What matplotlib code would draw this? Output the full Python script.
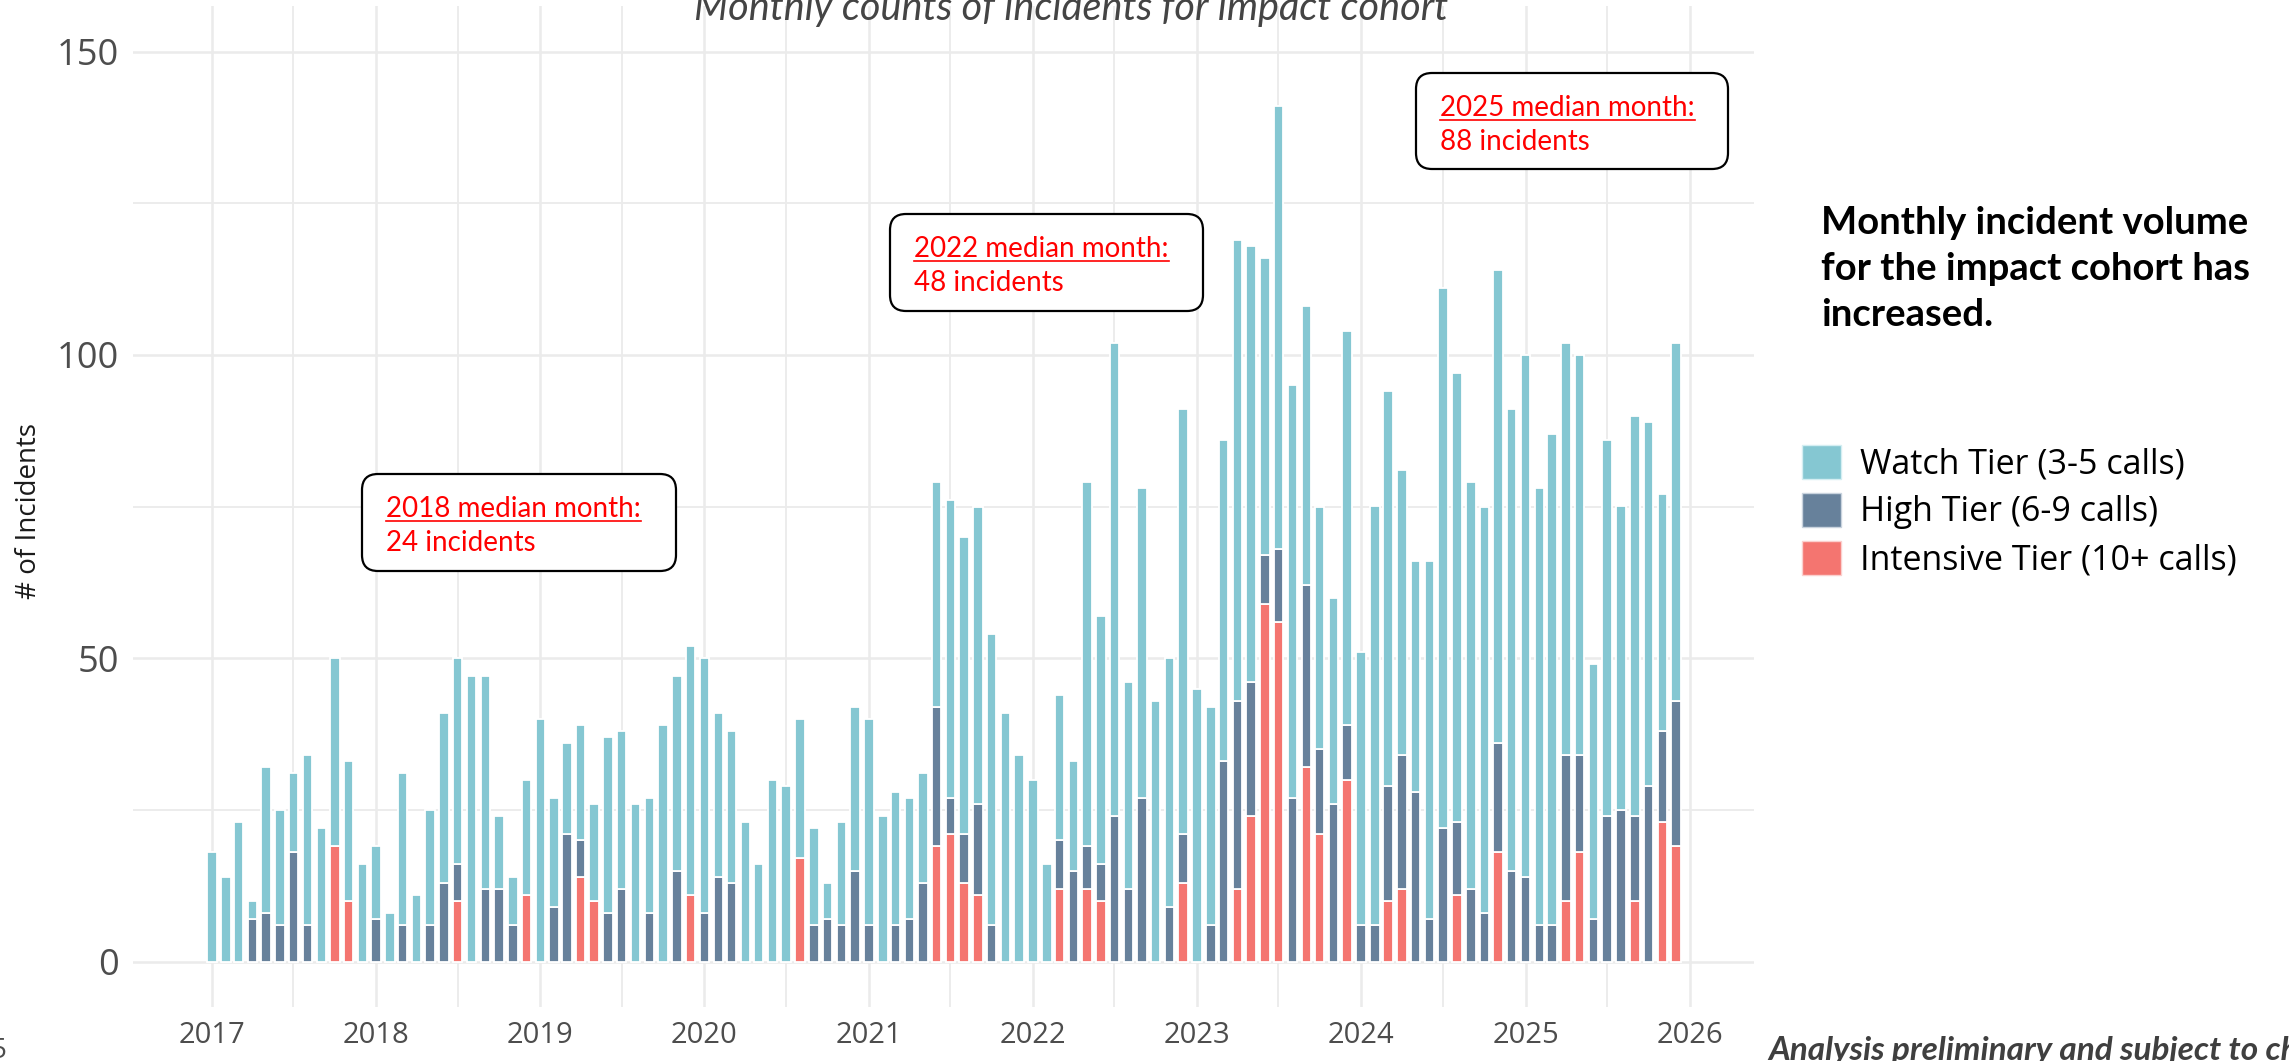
import datetime as dt
import pandas as pd
import matplotlib
matplotlib.use('Agg')
import matplotlib.pyplot as plt
import matplotlib.dates as mdates
from matplotlib.patches import FancyBboxPatch, Patch
from matplotlib.lines import Line2D
from matplotlib.transforms import IdentityTransform

# monthly incident counts by tier, Jan 2017 - Dec 2025 (one row per year)
months = pd.date_range('2017-01-01', '2025-12-01', freq='MS')

watch = [
    18, 14, 23, 3, 24, 19, 13, 28, 22, 31, 23, 16,
    12, 8, 25, 11, 19, 28, 34, 47, 35, 12, 8, 19,
    40, 18, 15, 19, 16, 29, 26, 26, 19, 39, 32, 41,
    42, 27, 25, 23, 16, 30, 29, 23, 16, 6, 17, 27,
    34, 24, 22, 20, 18, 37, 49, 49, 49, 48, 41, 34,
    30, 16, 24, 18, 60, 41, 78, 34, 51, 43, 41, 70,
    45, 36, 53, 76, 72, 49, 73, 68, 46, 40, 34, 65,
    45, 69, 65, 47, 38, 59, 89, 74, 67, 67, 78, 76,
    86, 72, 81, 68, 66, 42, 62, 50, 66, 60, 39, 59,
]
high = [
    0, 0, 0, 7, 8, 6, 18, 6, 0, 0, 0, 0,
    7, 0, 6, 0, 6, 13, 6, 0, 12, 12, 6, 0,
    0, 9, 21, 6, 0, 8, 12, 0, 8, 0, 15, 0,
    8, 14, 13, 0, 0, 0, 0, 0, 6, 7, 6, 15,
    6, 0, 6, 7, 13, 23, 6, 8, 15, 6, 0, 0,
    0, 0, 8, 15, 7, 6, 24, 12, 27, 0, 9, 8,
    0, 6, 33, 31, 22, 8, 12, 27, 30, 14, 26, 9,
    6, 6, 19, 22, 28, 7, 22, 12, 12, 8, 18, 15,
    14, 6, 6, 24, 16, 7, 24, 25, 14, 29, 15, 24,
]
intensive = [
    0, 0, 0, 0, 0, 0, 0, 0, 0, 19, 10, 0,
    0, 0, 0, 0, 0, 0, 10, 0, 0, 0, 0, 11,
    0, 0, 0, 14, 10, 0, 0, 0, 0, 0, 0, 11,
    0, 0, 0, 0, 0, 0, 0, 17, 0, 0, 0, 0,
    0, 0, 0, 0, 0, 19, 21, 13, 11, 0, 0, 0,
    0, 0, 12, 0, 12, 10, 0, 0, 0, 0, 0, 13,
    0, 0, 0, 12, 24, 59, 56, 0, 32, 21, 0, 30,
    0, 0, 10, 12, 0, 0, 0, 11, 0, 0, 18, 0,
    0, 0, 0, 10, 18, 0, 0, 0, 10, 0, 23, 19,
]

tier_labels = ['Watch Tier (3-5 calls)', 'High Tier (6-9 calls)', 'Intensive Tier (10+ calls)']
notes = [('2018 median month:', '24 incidents'),
         ('2022 median month:', '48 incidents'),
         ('2025 median month:', '88 incidents')]

C_WATCH = '#85C7D2'
C_HIGH = '#67819B'
C_INT = '#F47570'
GRID = '#EBEBEB'
GREY = '#4D4D4D'

W, H = 2289, 1061
fig = plt.figure(figsize=(W / 100, H / 100), dpi=100, facecolor='white')


def fx(px):
    return px / W


def fy(py):
    return 1 - py / H


ax = fig.add_axes([fx(133), fy(1007), fx(1754) - fx(133), fy(6) - fy(1007)])

df = pd.DataFrame({'month': months, 'watch': watch, 'high': high, 'intensive': intensive})
bw = 21  # days
ax.bar(df['month'], df['intensive'], width=bw, color=C_INT, edgecolor='white', linewidth=1.3, zorder=3)
ax.bar(df['month'], df['high'], bottom=df['intensive'], width=bw, color=C_HIGH,
       edgecolor='white', linewidth=1.3, zorder=3)
ax.bar(df['month'], df['watch'], bottom=df['intensive'] + df['high'], width=bw, color=C_WATCH,
       edgecolor='white', linewidth=1.3, zorder=3)

ax.set_xlim(dt.datetime(2016, 7, 9), dt.datetime(2026, 5, 24))
ax.set_ylim(-7.5, 157.5)

ax.xaxis.set_major_locator(mdates.YearLocator())
ax.xaxis.set_major_formatter(mdates.DateFormatter('%Y'))
ax.xaxis.set_minor_locator(mdates.MonthLocator(bymonth=7))
ax.set_yticks([0, 50, 100, 150])
ax.set_yticks([25, 75, 125], minor=True)

ax.grid(which='major', color=GRID, linewidth=1.8, zorder=0)
ax.grid(which='minor', color=GRID, linewidth=1.3, zorder=0)
ax.set_axisbelow(True)
for s in ax.spines.values():
    s.set_visible(False)
ax.tick_params(which='both', length=0)
ax.tick_params(axis='x', labelsize=21, labelcolor=GREY, pad=10)
ax.tick_params(axis='y', labelsize=26, labelcolor=GREY, pad=10)
for lab in ax.get_xticklabels() + ax.get_yticklabels():
    lab.set_fontfamily('Open Sans')

fig.text(fx(29), fy(511), '# of Incidents', rotation=90, ha='center', va='center',
         fontsize=20, family='Open Sans', color='#1a1a1a')

fig.text(fx(1071), fy(20), 'Monthly counts of incidents for impact cohort', ha='center',
         va='baseline', fontsize=28.5, style='italic', family='Lato', color='#444444')

# median-month call-outs
boxes = [(362, 474, 676, 571), (890, 214, 1203, 311), (1416, 73, 1728, 169)]
fig.canvas.draw()
renderer = fig.canvas.get_renderer()
for (x0, y0, x1, y1), (l1, l2) in zip(boxes, notes):
    box = FancyBboxPatch((x0, H - y1), x1 - x0, y1 - y0,
                         boxstyle='round,pad=0,rounding_size=16',
                         transform=IdentityTransform(), facecolor='white',
                         edgecolor='black', linewidth=1.6, zorder=10)
    fig.add_artist(box)
    t1 = fig.text(fx(x0 + 24), fy(y0 + 43), l1, color='red', fontsize=20,
                  family='Lato', va='baseline', zorder=11)
    fig.text(fx(x0 + 24), fy(y0 + 77), l2, color='red', fontsize=20,
             family='Lato', va='baseline', zorder=11)
    bb = t1.get_window_extent(renderer)
    base = H - (y0 + 43) - 4
    fig.add_artist(Line2D([bb.x0, bb.x1], [base, base], color='red', linewidth=1.2,
                          transform=IdentityTransform(), zorder=11))

# headline
head = ['Monthly incident volume', 'for the impact cohort has', 'increased.']
for i, line in enumerate(head):
    fig.text(fx(1821), fy(234 + 46 * i), line, fontsize=27.5, weight='bold',
             family='Lato', va='baseline', color='black')

handles = [Patch(facecolor=C_WATCH, edgecolor='#d4eef2'),
           Patch(facecolor=C_HIGH, edgecolor='#c9d3de'),
           Patch(facecolor=C_INT, edgecolor='#fbd0ce')]
fig.legend(handles, tier_labels, loc='upper left', bbox_to_anchor=(fx(1802), fy(445)),
           frameon=False, prop={'family': 'Open Sans', 'size': 24.5},
           handlelength=1.15, handleheight=1.15, labelspacing=0.34,
           handletextpad=0.55, borderpad=0, borderaxespad=0)

fig.text(fx(1768), fy(1060), 'Analysis preliminary and subject to change', fontsize=24,
         style='italic', weight='bold', family='Lato', color='#3F3F3F', va='baseline')
fig.text(fx(6), fy(1058), '5', ha='right', va='baseline', fontsize=20, color=GREY,
         family='Open Sans')

fig.savefig('out.png', dpi=100, facecolor='white')
